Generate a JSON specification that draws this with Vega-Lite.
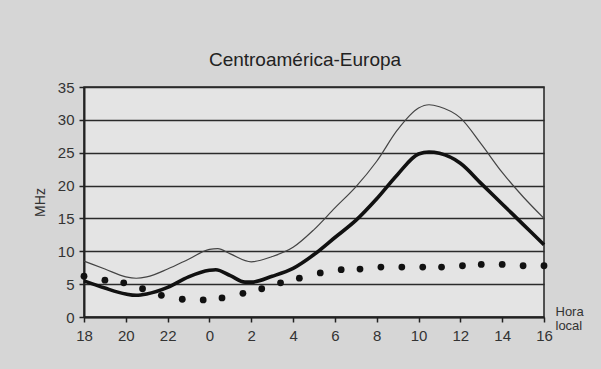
{
  "$schema": "https://vega.github.io/schema/vega-lite/v6.json",
  "width": 460,
  "height": 230,
  "autosize": {"type": "none"},
  "padding": {"left": 84, "top": 87, "right": 57, "bottom": 52},
  "background": "#d6d6d6",
  "title": {
    "text": "Centroamérica-Europa",
    "font": "Liberation Sans",
    "fontSize": 19,
    "fontWeight": "normal",
    "color": "#222222",
    "anchor": "middle",
    "frame": "group",
    "dx": -9,
    "baseline": "alphabetic",
    "offset": -5
  },
  "config": {
    "view": {"fill": "#e4e4e4", "stroke": "#222222", "strokeWidth": 1.5},
    "axis": {
      "labelFont": "Liberation Sans",
      "titleFont": "Liberation Sans",
      "labelFontSize": 15,
      "labelColor": "#333333",
      "titleColor": "#333333",
      "titleFontWeight": "normal",
      "domainColor": "#222222",
      "domainWidth": 2,
      "tickColor": "#222222",
      "tickWidth": 1.5,
      "tickSize": 5
    }
  },
  "datasets": {
    "alta": [
      {"h": 0, "MHz": 8.5}, {"h": 1, "MHz": 7.3}, {"h": 2, "MHz": 6.1}, {"h": 2.5, "MHz": 5.9},
      {"h": 3, "MHz": 6.1}, {"h": 4, "MHz": 7.3}, {"h": 5, "MHz": 8.8}, {"h": 6, "MHz": 10.3},
      {"h": 6.4, "MHz": 10.4}, {"h": 7, "MHz": 9.6}, {"h": 8, "MHz": 8.4}, {"h": 9, "MHz": 9.2},
      {"h": 10, "MHz": 10.6}, {"h": 11, "MHz": 13.3}, {"h": 12, "MHz": 16.6}, {"h": 13, "MHz": 19.8},
      {"h": 14, "MHz": 23.7}, {"h": 15, "MHz": 28.5}, {"h": 16, "MHz": 31.8}, {"h": 16.5, "MHz": 32.3},
      {"h": 17, "MHz": 32.0}, {"h": 18, "MHz": 30.3}, {"h": 19, "MHz": 26.3}, {"h": 20, "MHz": 22.0},
      {"h": 21, "MHz": 18.3}, {"h": 22, "MHz": 15.0}
    ],
    "media": [
      {"h": 0, "MHz": 5.5}, {"h": 1, "MHz": 4.4}, {"h": 2, "MHz": 3.5}, {"h": 2.5, "MHz": 3.3},
      {"h": 3, "MHz": 3.5}, {"h": 4, "MHz": 4.5}, {"h": 5, "MHz": 6.1}, {"h": 6, "MHz": 7.1},
      {"h": 6.3, "MHz": 7.2}, {"h": 7, "MHz": 6.3}, {"h": 7.7, "MHz": 5.3}, {"h": 8, "MHz": 5.3},
      {"h": 9, "MHz": 6.2}, {"h": 10, "MHz": 7.4}, {"h": 11, "MHz": 9.5}, {"h": 12, "MHz": 12.1},
      {"h": 13, "MHz": 14.7}, {"h": 14, "MHz": 18.0}, {"h": 15, "MHz": 21.7}, {"h": 16, "MHz": 24.8},
      {"h": 16.5, "MHz": 25.1}, {"h": 17, "MHz": 24.9}, {"h": 18, "MHz": 23.4}, {"h": 19, "MHz": 20.3},
      {"h": 20, "MHz": 17.2}, {"h": 21, "MHz": 14.1}, {"h": 22, "MHz": 11.0}
    ],
    "puntos": [
      {"h": 0, "MHz": 6.2}, {"h": 1, "MHz": 5.6}, {"h": 1.9, "MHz": 5.2}, {"h": 2.8, "MHz": 4.3},
      {"h": 3.7, "MHz": 3.3}, {"h": 4.7, "MHz": 2.7}, {"h": 5.7, "MHz": 2.6}, {"h": 6.6, "MHz": 2.9},
      {"h": 7.6, "MHz": 3.6}, {"h": 8.5, "MHz": 4.3}, {"h": 9.4, "MHz": 5.2}, {"h": 10.3, "MHz": 5.9},
      {"h": 11.3, "MHz": 6.7}, {"h": 12.3, "MHz": 7.2}, {"h": 13.2, "MHz": 7.3}, {"h": 14.2, "MHz": 7.6},
      {"h": 15.2, "MHz": 7.6}, {"h": 16.2, "MHz": 7.6}, {"h": 17.1, "MHz": 7.6}, {"h": 18.1, "MHz": 7.8},
      {"h": 19, "MHz": 8.0}, {"h": 20, "MHz": 8.0}, {"h": 21, "MHz": 7.8}, {"h": 22, "MHz": 7.8}
    ]
  },
  "encoding": {
    "x": {
      "field": "h",
      "type": "quantitative",
      "scale": {"domain": [0, 22], "nice": false, "zero": false},
      "axis": {
        "values": [0, 2, 4, 6, 8, 10, 12, 14, 16, 18, 20, 22],
        "labelExpr": "(datum.value + 18) % 24",
        "labelFlush": false,
        "labelOverlap": false,
        "grid": false,
        "labelPadding": 6,
        "title": ["Hora", "local"],
        "titleFontSize": 13,
        "titleLineHeight": 14,
        "titleAnchor": null,
        "titleAlign": "left",
        "titleBaseline": "top",
        "titleX": 471,
        "titleY": -12
      }
    },
    "y": {
      "field": "MHz",
      "type": "quantitative",
      "scale": {"domain": [0, 35], "nice": false},
      "axis": {
        "values": [0, 5, 10, 15, 20, 25, 30, 35],
        "grid": true,
        "gridColor": "#2a2a2a",
        "gridWidth": 1.5,
        "gridOpacity": 1,
        "labelPadding": 5,
        "labelFlush": false,
        "title": "MHz",
        "titleFontSize": 14,
        "titlePadding": 10
      }
    }
  },
  "layer": [
    {
      "data": {"name": "alta"},
      "mark": {"type": "line", "interpolate": "monotone", "color": "#444444", "strokeWidth": 1.2}
    },
    {
      "data": {"name": "media"},
      "mark": {"type": "line", "interpolate": "monotone", "color": "#111111", "strokeWidth": 3.6}
    },
    {
      "data": {"name": "puntos"},
      "mark": {"type": "circle", "color": "#111111", "opacity": 1, "size": 46}
    }
  ]
}
